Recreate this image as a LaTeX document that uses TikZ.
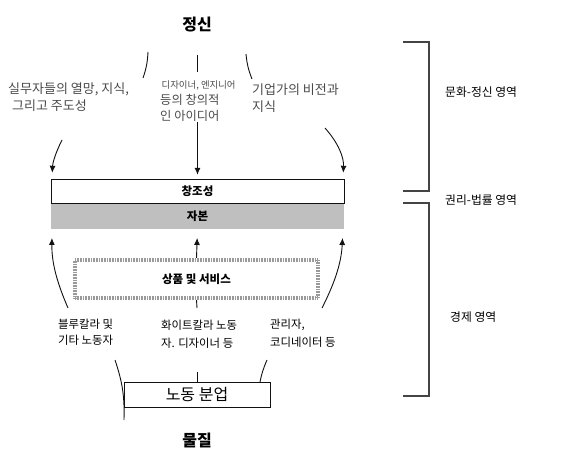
\documentclass[tikz,border=0pt]{standalone}
\usepackage{fontspec}
\setmainfont{Noto Sans CJK KR}
\usetikzlibrary{arrows.meta,positioning}
\definecolor{Ink}{HTML}{111111}
\definecolor{Note}{HTML}{4A4A4A}
\definecolor{Capital}{HTML}{BFBFBF}
\definecolor{Stipple}{HTML}{9A9A9A}
\definecolor{Brace}{HTML}{444444}

\begin{document}
\begin{tikzpicture}[
  x=1pt,y=-1pt,>={Latex[length=7pt,width=6pt]},
  line/.style={draw=Ink,line width=0.9pt},
  bar/.style={minimum width=293pt,minimum height=24.5pt,inner sep=0pt,font=\fontsize{11.5}{12}\selectfont\bfseries},
  pole/.style={font=\fontsize{16}{18}\selectfont\bfseries,inner sep=0pt},
  note/.style={font=\fontsize{13}{17}\selectfont,text=Note,align=left,inner sep=0pt,anchor=north west},
  role/.style={font=\fontsize{11.4}{17}\selectfont,align=left,inner sep=0pt,anchor=north west},
  realm/.style={font=\fontsize{11.8}{12}\selectfont,inner sep=0pt,anchor=west},
  brace/.style={draw=Brace,line width=1.1pt}
]
\useasboundingbox (0,0) rectangle (567,462);

% poles
\node[pole] (spirit) at (197,25) {정신};
\node[pole] (matter) at (197,440) {물질};

% upper notes
\node[note] (workers) at (8,83) {실무자들의 열망, 지식,\\\hspace*{4pt}그리고 주도성};
\node[note,font=\fontsize{12.3}{16.5}\selectfont] (ideas) at (160,81) {\hspace*{1.5pt}{\fontsize{9.4}{10}\selectfont 디자이너, 엔지니어}\\[-1pt]등의 창의적\\인 아이디어};
\node[note] (vision) at (252,84) {기업가의 비전과\\지식};

% bars
\node[bar,draw=Ink,line width=0.9pt,fill=white] (creat) at (197.5,191.5) {창조성};
\node[bar,fill=Capital] (capital) at (197.5,216.5) {자본};
\node[bar,minimum width=243pt,minimum height=38pt,line width=4pt,
  preaction={draw=Stipple!45,line width=4pt},
  draw=Stipple,dash pattern=on 0.8pt off 0.8pt] (goods) at (196.5,279) {상품 및 서비스};
\node[draw=Ink,line width=0.9pt,minimum width=146pt,minimum height=25pt,inner sep=0pt,
  font=\fontsize{16}{17}\selectfont] (labor) at (197,394.5) {노동 분업};

% lower notes
\node[role] (blue) at (58,319) {블루칼라 및\\[-1pt]기타 노동자};
\node[role] (white) at (161,320) {화이트칼라 노동\\[1pt]자. 디자이너 등};
\node[role] (manager) at (270,319) {관리자,\\[1pt]코디네이터 등};

% realms
\node[realm] (culture) at (445,92) {문화-정신 영역};
\node[realm] (law) at (445,200) {권리-법률 영역};
\node[realm] (economy) at (450,317) {경제 영역};

% upper strokes
\coordinate (ul1) at (148,52); \coordinate (ul2) at (143,78);
\coordinate (uc1) at (197,55); \coordinate (uc2) at (197,72);
\coordinate (ur1) at (246,54); \coordinate (ur2) at (252,79);
\draw[line] (ul1) to[bend left=8] (ul2);
\draw[line] (uc1) -- (uc2);
\draw[line] (ur1) to[bend right=8] (ur2);

% down into creativity
\coordinate (dl) at (62,140); \coordinate (dr) at (325,128);
\draw[line,->,shorten >=6pt] (dl) to[bend right=12] (creat.north west-|52,0);
\draw[line,->,shorten >=4pt] (ideas.south-|creat.north) -- (creat.north);
\draw[line,->,shorten >=6pt] (dr) to[bend left=22] (creat.north east-|343,0);

% up into capital
\coordinate (bl) at (68,308); \coordinate (br) at (322,308);
\draw[line,->,shorten >=9pt] (bl) to[bend left=12] (capital.south west-|52,0);
\draw[line,->,shorten >=9pt] (goods.north) -- (capital.south);
\draw[line,->,shorten >=9pt] (br) to[bend right=12] (capital.south east-|343,0);

% lower strokes
\coordinate (gc) at (197,308);
\draw[line] (goods.south) -- (gc);
\coordinate (ll1) at (115,360); \coordinate (ll2) at (124,420);
\coordinate (lc) at (197,372);
\coordinate (lr1) at (267,360); \coordinate (lr2) at (260,382);
\draw[line] (ll1) to[bend left=10] (ll2);
\draw[line] (lc) -- (labor.north);
\draw[line] (lr1) to[bend right=6] (lr2);

% realm brackets
\draw[brace] (403,42) -| (429,191) -- (403,191);
\draw[brace] (403,203) -| (429,396) -- (403,396);
\end{tikzpicture}
\end{document}
